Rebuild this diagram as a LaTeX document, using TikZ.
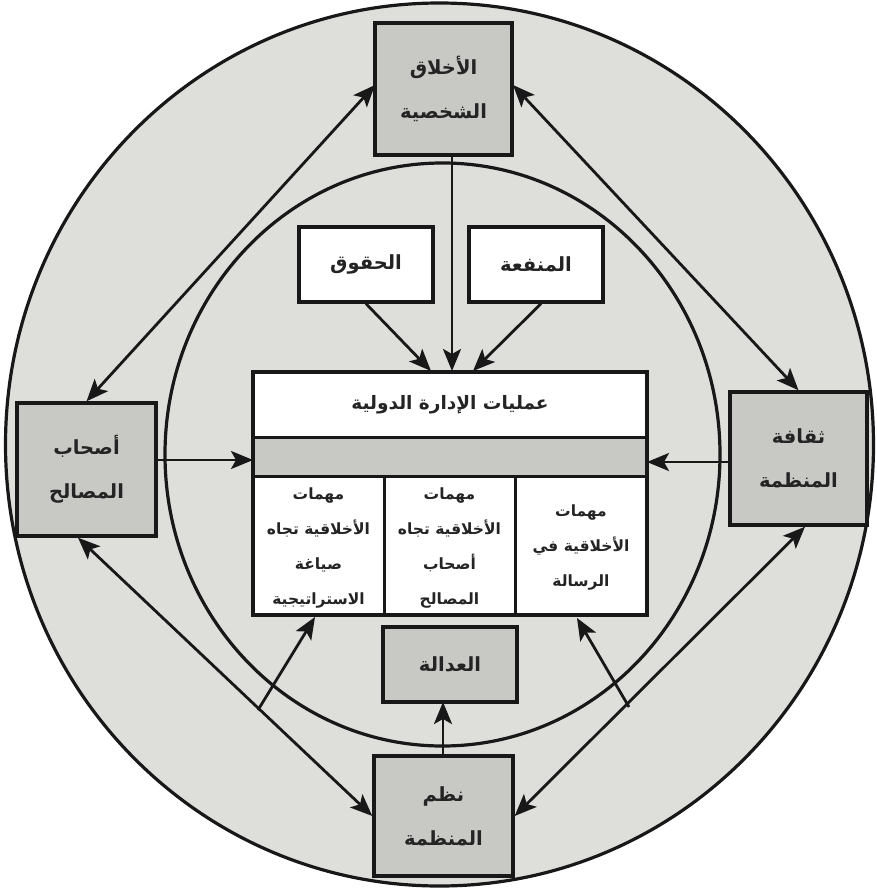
\documentclass[tikz,border=0pt]{standalone}
\usepackage{fontspec}
\usetikzlibrary{arrows.meta,calc}
\TeXXeTstate=1
\newfontfamily\arabicfont[Script=Arabic]{DejaVu Sans Bold}
\newcommand{\artext}[1]{{\arabicfont\beginR #1\endR}}

\definecolor{ringgray}{RGB}{222,222,219}
\definecolor{boxgray}{RGB}{200,200,197}
\definecolor{inkline}{RGB}{24,24,24}
\definecolor{inktext}{RGB}{36,36,36}

\tikzset{
  graybox/.style={draw=inkline, line width=3.4pt, fill=boxgray, inner sep=0pt,
    align=center, text=inktext, font=\fontsize{19.5}{44}\selectfont},
  whitebox/.style={draw=inkline, line width=3.4pt, fill=white, inner sep=0pt,
    align=center, text=inktext, font=\fontsize{19.5}{44}\selectfont},
  coltext/.style={align=center, text=inktext, inner sep=0pt,
    font=\fontsize{15.5}{35}\selectfont},
  tip/.tip={Stealth[length=22pt,width=18pt,inset=5pt]},
  flow/.style={draw=inkline, line width=2.8pt, -tip},
  twoway/.style={draw=inkline, line width=2.8pt, tip-tip},
  ring/.style={draw=inkline, line width=3.2pt}
}

\begin{document}
\begin{tikzpicture}[x=1pt,y=-1pt]
\useasboundingbox (0,0) rectangle (877,889);

% outer and inner rings
\draw[ring, fill=ringgray] (439.5,444.5) ellipse [x radius=434, y radius=441.5];
\draw[ring] (442.5,454.5) ellipse [x radius=277.5, y radius=291.5];

% outer boxes
\node[graybox, minimum width=137pt, minimum height=132pt] (ethics) at (443.5,89)
  {\artext{الأخلاق}\\\artext{الشخصية}};
\node[graybox, minimum width=139pt, minimum height=133pt] (stake) at (86.5,469.5)
  {\artext{أصحاب}\\\artext{المصالح}};
\node[graybox, minimum width=137pt, minimum height=133pt] (culture) at (798.5,458.5)
  {\artext{ثقافة}\\\artext{المنظمة}};
\node[graybox, minimum width=139pt, minimum height=120pt] (systems) at (443.5,816)
  {\artext{نظم}\\\artext{المنظمة}};

% inner boxes
\node[whitebox, minimum width=134pt, minimum height=75pt] (rights) at (366,264.5)
  {\artext{الحقوق}};
\node[whitebox, minimum width=134pt, minimum height=75pt] (utility) at (536,264.5)
  {\artext{المنفعة}};
\node[graybox, minimum width=134pt, minimum height=75pt] (justice) at (450,664.5)
  {\artext{العدالة}};

% central block: title row, grey band, three task columns
\node[draw=inkline, line width=3.4pt, fill=white, minimum width=394pt,
  minimum height=243pt, inner sep=0pt] (main) at (450,493.5) {};
\fill[boxgray] (253,437) rectangle (647,476);
\draw[inkline, line width=3pt] (253,437) -- (647,437);
\draw[inkline, line width=3pt] (253,476) -- (647,476);
\draw[inkline, line width=3pt] (384,476) -- (384,615);
\draw[inkline, line width=3pt] (515,476) -- (515,615);
\draw[draw=inkline, line width=3.4pt] (253,372) rectangle (647,615);
\node[text=inktext, font=\fontsize{18.5}{24}\selectfont] (title) at (450,404.5)
  {\artext{عمليات الإدارة الدولية}};
\node[coltext] (colA) at (318.5,548)
  {\artext{مهمات}\\\artext{الأخلاقية تجاه}\\\artext{صياغة}\\\artext{الاستراتيجية}};
\node[coltext] (colB) at (449.5,548)
  {\artext{مهمات}\\\artext{الأخلاقية تجاه}\\\artext{أصحاب}\\\artext{المصالح}};
\node[coltext] (colC) at (581,547)
  {\artext{مهمات}\\\artext{الأخلاقية في}\\\artext{الرسالة}};

% anchor points for connectors
\coordinate (mainL) at (253,460);
\coordinate (mainR) at (647,462);
\coordinate (topA) at (431,371);
\coordinate (topB) at (452,371);
\coordinate (topC) at (473,371);
\coordinate (ethicsOut) at (452,155);
\coordinate (botA) at (315,617);
\coordinate (botC) at (577,618);
\coordinate (tailA) at (258,710);
\coordinate (tailC) at (629,707);
\coordinate (sysTop) at (443,756);
\coordinate (justBot) at (443,702);
\coordinate (ethW) at (375,85);
\coordinate (ethE) at (513,85);

% connectors
\draw[flow] (rights.south) -- (topA);
\draw[flow] (ethicsOut) -- (topB);
\draw[flow] (utility.south -| 541,0) -- (topC);
\draw[flow] (stake.east |- mainL) -- (mainL);
\draw[flow] (culture.west |- mainR) -- (mainR);
\draw[flow] (sysTop) -- (justBot);
\draw[flow] (tailA) -- (botA);
\draw[flow] (tailC) -- (botC);
\draw[twoway] (ethW) -- (stake.north);
\draw[twoway] (ethE) -- (culture.north);
\draw[twoway] (stake.south -| 78,0) -- (systems.west);
\draw[twoway] (culture.south -| 805,0) -- (systems.east);
\end{tikzpicture}
\end{document}
